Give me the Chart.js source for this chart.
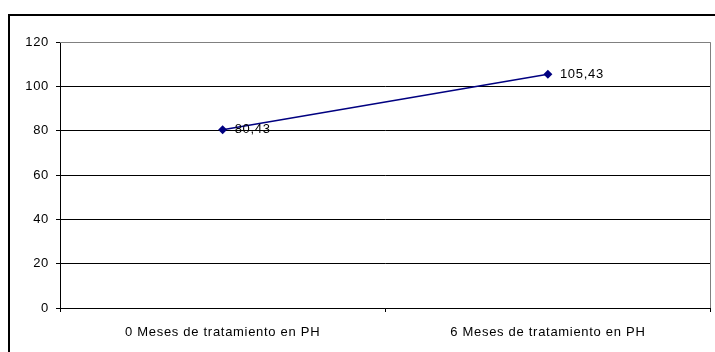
<!DOCTYPE html>
<html>
<head>
<meta charset="utf-8">
<script src="https://cdn.jsdelivr.net/npm/chart.js@4/dist/chart.umd.min.js"></script>
<style>
    body { margin: 0; background: #fff; overflow: hidden; }
    #wrap { position: relative; width: 715px; height: 352px; }
    #frame { position: absolute; left: 8px; top: 14px; width: 720px; height: 360px; border: 2px solid #000; }
    #chart { position: absolute; left: 0; top: 0; }
</style>
</head>
<body>
<div id="wrap">
    <div id="frame"></div>
    <canvas id="chart" width="715" height="352"></canvas>
</div>
<script>
var categories = ['0 Meses de tratamiento en PH', '6 Meses de tratamiento en PH'];
var values = [80.43, 105.43];
var yTicks = [0, 20, 40, 60, 80, 100, 120];

var FONT = { family: '"Liberation Sans", Arial, sans-serif', size: 13 };

// windows-style text is a bit wider, give canvas some letter spacing
var spacing = {
    id: 'spacing',
    beforeLayout: function(chart) { chart.ctx.letterSpacing = '0.7px'; },
    beforeDraw: function(chart) { chart.ctx.letterSpacing = '0.7px'; }
};

// grey plot area border + value labels next to the points
var extras = {
    id: 'extras',
    afterDraw: function(chart) {
        var c = chart.ctx, a = chart.chartArea;
        c.save();
        c.strokeStyle = '#808080';
        c.lineWidth = 1;
        c.beginPath();
        c.moveTo(a.left, a.top + 0.5);
        c.lineTo(Math.round(a.right) - 0.5, a.top + 0.5);
        c.lineTo(Math.round(a.right) - 0.5, a.bottom);
        c.stroke();
        c.restore();
    },
    afterDatasetsDraw: function(chart) {
        var c = chart.ctx;
        var meta = chart.getDatasetMeta(0);
        c.save();
        c.font = FONT.size + 'px ' + FONT.family;
        c.fillStyle = '#000';
        c.textAlign = 'left';
        c.textBaseline = 'middle';
        meta.data.forEach(function(pt, i) {
            c.fillText(String(values[i]).replace('.', ','), pt.x + 12, pt.y);
        });
        c.restore();
    }
};

var ctx = document.getElementById('chart');
var chart = new Chart(ctx, {
    type: 'line',
    data: {
        labels: categories,
        datasets: [{
            data: values,
            borderColor: '#000080',
            backgroundColor: '#000080',
            borderWidth: 1.5,
            pointStyle: 'rectRot',
            pointRadius: 4.5,
            pointBorderWidth: 0,
            tension: 0,
            fill: false
        }]
    },
    options: {
        responsive: false,
        animation: false,
        devicePixelRatio: 1,
        layout: { padding: { top: 42, right: 1, left: 0, bottom: 0 } },
        plugins: {
            legend: { display: false },
            tooltip: { enabled: false }
        },
        scales: {
            x: {
                offset: true,
                afterFit: function(s) { s.height = 44; },
                grid: {
                    offset: true,
                    drawOnChartArea: false,
                    drawTicks: true,
                    tickLength: 4,
                    tickColor: '#000'
                },
                border: { color: '#000', width: 1 },
                ticks: { color: '#000', font: FONT, padding: 13, maxRotation: 0 }
            },
            y: {
                min: 0,
                max: 120,
                afterFit: function(s) { s.width = 60; },
                afterBuildTicks: function(s) {
                    s.ticks = yTicks.map(function(v) { return { value: v }; });
                },
                grid: {
                    color: function(c) { return c.tick && c.tick.value === 120 ? '#808080' : '#000'; },
                    tickColor: '#000',
                    tickLength: 4
                },
                border: { color: '#000', width: 1 },
                ticks: { color: '#000', font: FONT, padding: 7 }
            }
        }
    },
    plugins: [spacing, extras]
});
</script>
</body>
</html>
